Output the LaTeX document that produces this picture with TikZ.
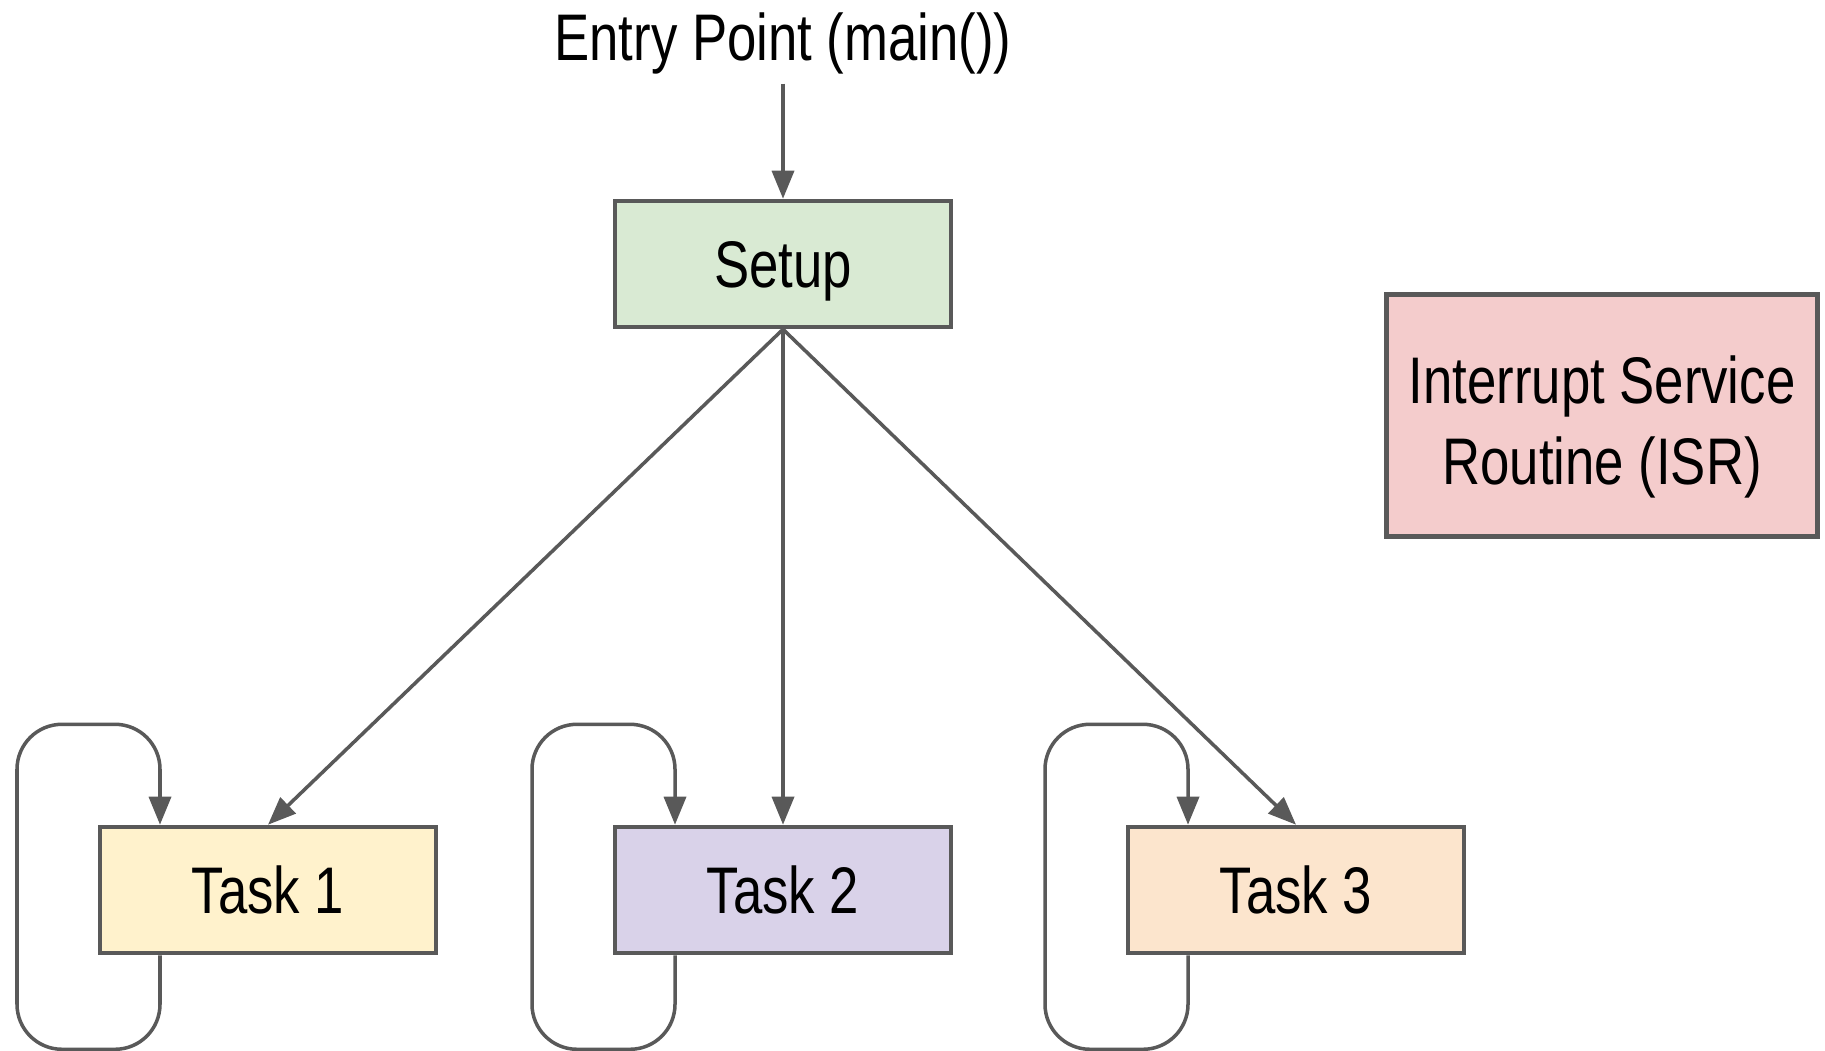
\documentclass[tikz,border=0pt]{standalone}
\usepackage{graphicx}
\usepackage{fontspec}
\setmainfont{Liberation Sans}
\usetikzlibrary{arrows.meta}
\definecolor{edgegray}{HTML}{595959}
\definecolor{setupgreen}{HTML}{D9EAD3}
\definecolor{taskyellow}{HTML}{FFF2CC}
\definecolor{tasklilac}{HTML}{D9D2E9}
\definecolor{taskpeach}{HTML}{FCE5CD}
\definecolor{isrpink}{HTML}{F4CCCC}
\def\tx#1{\scalebox{1}[1.25]{#1}}
\tikzset{
  box/.style={draw=edgegray, line width=1.3pt, minimum width=3.36cm,
    minimum height=1.26cm, inner sep=0pt, text depth=0pt,
    font=\fontsize{15}{18.5}\selectfont},
  flow/.style={draw=edgegray, line width=1pt,
    -{Triangle[length=0.28cm,width=0.22cm]}},
  taskloop/.style={flow, rounded corners=0.45cm}
}

\begin{document}
\begin{tikzpicture}
  \useasboundingbox (0,0) rectangle (18.25,10.5);
  \node[anchor=base, inner sep=2.5pt, font=\fontsize{15}{17}\selectfont] (entry) at (7.83,9.895) {\tx{Entry Point (main())}};
  \node[box, fill=setupgreen] (setup) at (7.83,7.86) {\tx{Setup}};
  \node[box, fill=isrpink, minimum width=4.31cm, minimum height=2.42cm] (isr) at (16.02,6.345)
    {\tx{\begin{tabular}[b]{@{}c@{}}Interrupt Service\\Routine (ISR)\end{tabular}}};
  \node[box, fill=taskyellow] (task1) at (2.68,1.60) {\tx{Task 1}};
  \node[box, fill=tasklilac] (task2) at (7.83,1.60) {\tx{Task 2}};
  \node[box, fill=taskpeach] (task3) at (12.96,1.60) {\tx{Task 3}};
    \draw[flow] (entry) -- (setup);
    \draw[flow] (setup.south) -- (task1.north);
    \draw[flow] (setup.south) -- (task2.north);
    \draw[flow] (setup.south) -- (task3.north);
    % each task runs again and again
    \foreach \t in {task1,task2,task3}
      \draw[taskloop] ([xshift=-1.08cm]\t.south) |- ++(-1.43,-0.94) -- ++(0,3.25) -| ([xshift=-1.08cm]\t.north);
\end{tikzpicture}
\end{document}
